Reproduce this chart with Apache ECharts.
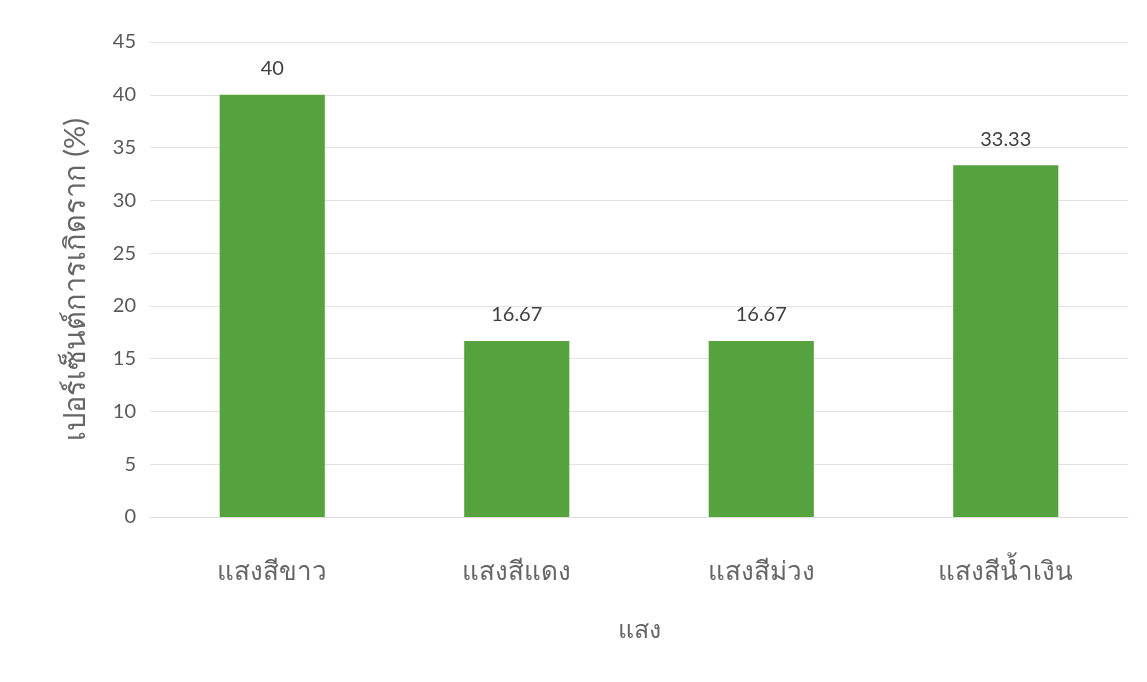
<!DOCTYPE html>
<html>
<head>
<meta charset="utf-8">
<script src="https://cdn.jsdelivr.net/npm/echarts@6/dist/echarts.min.js"></script>
<style>
  html, body { margin: 0; padding: 0; background: #fff; }
  #chart { width: 1147px; height: 682px; }
</style>
</head>
<body>
<div id="chart"></div>
<script>
// ข้อมูลจากกราฟ
const categories = ['แสงสีขาว', 'แสงสีแดง', 'แสงสีม่วง', 'แสงสีน้ำเงิน'];
const rootPercent = [40, 16.67, 16.67, 33.33];
const yTicks = { min: 0, max: 45, interval: 5 };

const font = 'Lato, "Open Sans", "Noto Sans", sans-serif';

const chart = echarts.init(document.getElementById('chart'));
const option = {
  animation: false,
  grid: { left: 150, right: 19, top: 42, bottom: 165 },
  xAxis: {
    type: 'category',
    data: categories,
    name: 'แสง',
    nameLocation: 'middle',
    nameGap: 100,
    nameTextStyle: { fontSize: 25, color: '#666', fontFamily: font },
    axisLine: { show: true, lineStyle: { color: '#dedede' } },
    axisTick: { show: false },
    axisLabel: { fontSize: 26, color: '#666', margin: 42, fontFamily: font }
  },
  yAxis: {
    type: 'value',
    min: yTicks.min,
    max: yTicks.max,
    interval: yTicks.interval,
    name: 'เปอร์เซ็นต์การเกิดราก (%)',
    nameLocation: 'middle',
    nameRotate: 90,
    nameGap: 60,
    nameTextStyle: { fontSize: 29, color: '#666', fontFamily: font },
    axisLine: { show: false },
    axisTick: { show: false },
    axisLabel: { fontSize: 20, color: '#595959', margin: 14, fontFamily: font },
    splitLine: { lineStyle: { color: '#e2e2e2', width: 1 } }
  },
  series: [{
    type: 'bar',
    data: rootPercent,
    barWidth: '43%',
    itemStyle: { color: '#56a23f' },
    label: {
      show: true,
      position: 'top',
      distance: 16,
      fontSize: 20,
      color: '#404040',
      fontFamily: font
    }
  }]
};
chart.setOption(option);
</script>
</body>
</html>
